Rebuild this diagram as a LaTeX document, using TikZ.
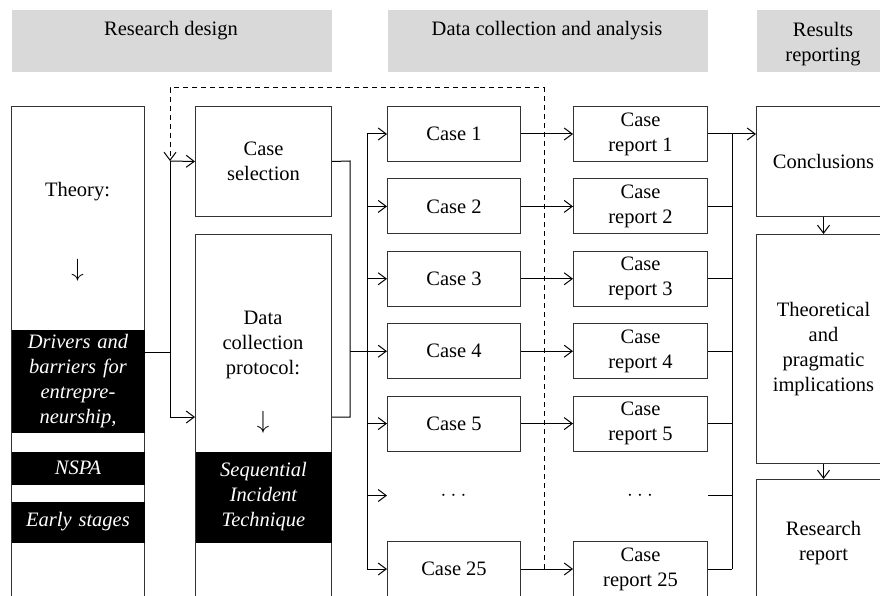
\documentclass[tikz,border=0pt]{standalone}
\usepackage{fontspec}
\setmainfont{Liberation Serif}
\usetikzlibrary{arrows.meta}

\begin{document}
\begin{tikzpicture}[x=1pt,y=-1pt,line width=1pt,
   font=\fontsize{20.5}{25}\selectfont,
   >={Straight Barb[length=8pt,width=12pt]},
   head/.style={fill=black!15,anchor=north west,minimum height=62pt,inner sep=0pt},
   box/.style={draw=black!80,anchor=north west,align=center,inner sep=0pt},
   blk/.style={fill=black,text=white,font=\fontsize{20.5}{25}\selectfont\itshape,
      anchor=north west,align=center,inner sep=0pt},
   txt/.style={align=center,inner sep=0pt},
   down/.style={inner sep=0pt,font=\fontsize{27}{27}\selectfont}]
\useasboundingbox (0,0) rectangle (880,596);
\clip (0,0) rectangle (880,596);

% phase headers
\node[head,minimum width=320pt] (hd1) at (11,10) {};
\node[head,minimum width=320pt] (hd2) at (387,10) {};
\node[head,minimum width=134pt] (hd3) at (756,10) {};
\node[txt] (hdt1) at (171,31) {Research design};
\node[txt] (hdt2) at (547,31) {Data collection and analysis};
\node[txt] (hdt3) at (823,44) {Results\\reporting};

% research design
\node[box,minimum width=133pt,minimum height=520pt] (theory) at (11,106) {};
\node[txt] (theoryt) at (77.5,192) {Theory:};
\node[down] (theorya) at (77.5,270) {$\downarrow$};
\node[blk,text width=133pt,minimum height=103pt] (drv) at (11,329) {Drivers and\\barriers for\\entrepre-\\neurship,};
\node[blk,text width=133pt,minimum height=33pt] (nspa) at (11,451) {NSPA};
\node[blk,text width=133pt,minimum height=41pt] (early) at (11,501) {Early stages};

\node[box,minimum width=136pt,minimum height=110pt] (csel) at (195,106) {Case\\selection};
\node[box,minimum width=136pt,minimum height=400pt] (dcp) at (195,234) {};
\node[txt] (dcpt) at (263,345) {Data\\collection\\protocol:};
\node[down] (dcpa) at (263,422) {$\downarrow$};
\node[blk,text width=136pt,minimum height=91pt] (sit) at (195,451) {Sequential\\Incident\\Technique};

% cases and case reports
\node[box,minimum width=133pt,minimum height=55pt] (case1) at (387,106) {Case 1};
\node[box,minimum width=133pt,minimum height=55pt] (case2) at (387,178.4) {Case 2};
\node[box,minimum width=133pt,minimum height=55pt] (case3) at (387,250.8) {Case 3};
\node[box,minimum width=133pt,minimum height=55pt] (case4) at (387,323.2) {Case 4};
\node[box,minimum width=133pt,minimum height=55pt] (case5) at (387,395.6) {Case 5};
\node[txt] (cdots) at (453.5,495.5) {$\cdot$\hspace{4.3pt}$\cdot$\hspace{4.3pt}$\cdot$};
\node[box,minimum width=133pt,minimum height=55pt] (case25) at (387,541) {Case 25};

\node[box,minimum width=134pt,minimum height=55pt] (rep1) at (573,106) {Case\\report 1};
\node[box,minimum width=134pt,minimum height=55pt] (rep2) at (573,178.4) {Case\\report 2};
\node[box,minimum width=134pt,minimum height=55pt] (rep3) at (573,250.8) {Case\\report 3};
\node[box,minimum width=134pt,minimum height=55pt] (rep4) at (573,323.2) {Case\\report 4};
\node[box,minimum width=134pt,minimum height=55pt] (rep5) at (573,395.6) {Case\\report 5};
\node[txt] (rdots) at (640,495.5) {$\cdot$\hspace{4.3pt}$\cdot$\hspace{4.3pt}$\cdot$};
\node[box,minimum width=134pt,minimum height=55pt] (rep25) at (573,541) {Case\\report 25};

% results reporting
\node[box,minimum width=134pt,minimum height=110pt] (concl) at (756,106) {Conclusions};
\node[box,minimum width=134pt,minimum height=229pt] (impl) at (756,234) {Theoretical\\and\\pragmatic\\implications};
\node[box,minimum width=134pt,minimum height=128pt] (rrep) at (756,479) {Research\\report};

% theory into the design boxes
\coordinate (s1) at (170,161);
\coordinate (s2) at (170,417);
\coordinate (s3) at (170,352);
\draw (theory.east |- s3) -- (s3);
\draw (s1) -- (s2);
\draw[->] (s1) -- (csel.west);
\draw[->] (s2) -- (dcp.west |- s2);

% design boxes joined, then out to the cases
\coordinate (b1) at (350,161);
\coordinate (b2) at (350,417);
\draw (csel.east) -- (b1) -- (b2) -- (dcp.east |- b2);
\draw[->] (b1 |- case4) -- (case4.west);

\coordinate (lbus) at (367,0);
\draw (lbus |- case1) -- (lbus |- case25);
\draw[->] (lbus |- case1) -- (case1.west);
\draw[->] (lbus |- case2) -- (case2.west);
\draw[->] (lbus |- case3) -- (case3.west);
\draw[->] (lbus |- case5) -- (case5.west);
\draw[->] (lbus |- cdots) -- (case1.west |- cdots);
\draw[->] (lbus |- case25) -- (case25.west);

\draw[->] (case1) -- (rep1);
\draw[->] (case2) -- (rep2);
\draw[->] (case3) -- (rep3);
\draw[->] (case4) -- (rep4);
\draw[->] (case5) -- (rep5);
\draw[->] (case25) -- (rep25);

% reports collected into the results
\coordinate (rbus) at (732,0);
\draw (rbus |- rep1) -- (rbus |- rep25);
\draw (rep1.east) -- (rbus |- rep1);
\draw (rep2.east) -- (rbus |- rep2);
\draw (rep3.east) -- (rbus |- rep3);
\draw (rep4.east) -- (rbus |- rep4);
\draw (rep5.east) -- (rbus |- rep5);
\draw (rep1.east |- rdots) -- (rbus |- rdots);
\draw (rep25.east) -- (rbus |- rep25);
\draw[->] (rbus |- rep1) -- (concl.west |- rep1);
\draw[->] (concl) -- (impl);
\draw[->] (impl) -- (rrep);

% feedback loop back to case selection
\coordinate (d0) at (544,88);
\draw[dash pattern=on 5pt off 4pt,->] (d0 |- case25) -- (d0) -| (s1);
\end{tikzpicture}
\end{document}
